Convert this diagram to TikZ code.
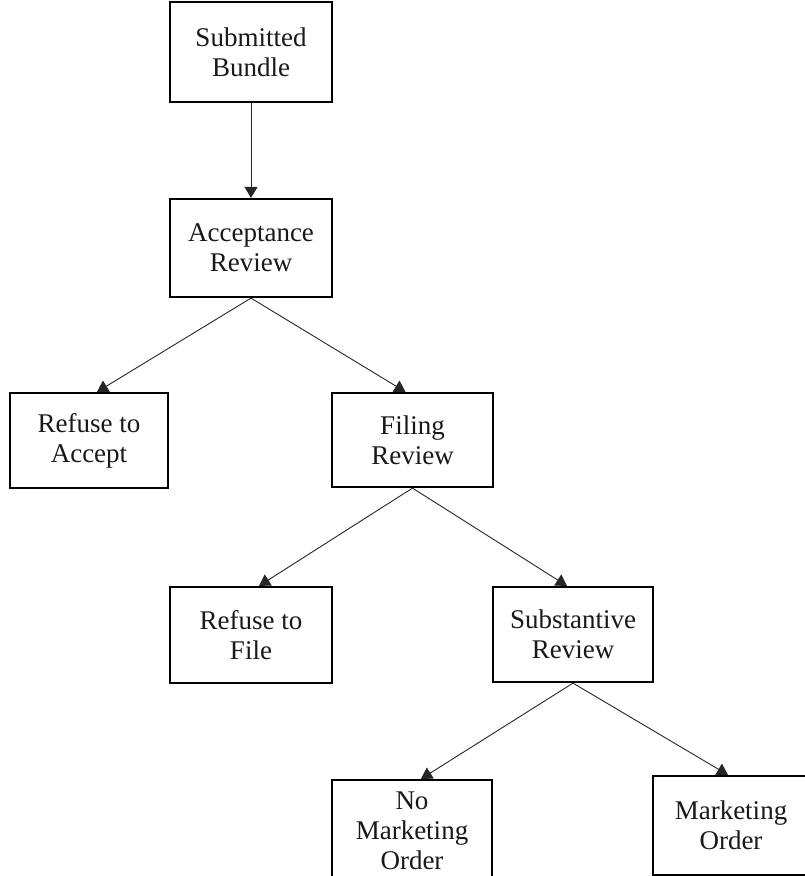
\documentclass[tikz,border=0pt]{standalone}
\usepackage{fontspec}
\setmainfont{Liberation Serif}
\usetikzlibrary{arrows.meta}
\begin{document}
\begin{tikzpicture}[x=1pt,y=-1pt,
  box/.style={draw=black, line width=2.2pt, fill=white, align=center, inner sep=0pt,
    font=\fontsize{27}{30}\selectfont, text=black!90},
  conn/.style={line width=0.9pt, draw=black!85, -{Triangle[width=13pt,length=11pt]}}]
\useasboundingbox (0,0) rectangle (805,876);
\clip (0,0) rectangle (805,876);
\node[box, minimum width=162pt, minimum height=100pt] (b1) at (251,52) {Submitted\\Bundle};
\node[box, minimum width=162pt, minimum height=98pt] (b2) at (251,248) {Acceptance\\Review};
\node[box, minimum width=158pt, minimum height=95pt] (b3) at (89,440.5) {Refuse to\\Accept};
\node[box, minimum width=161pt, minimum height=94pt] (b4) at (412.5,440) {Filing\\Review};
\node[box, minimum width=162pt, minimum height=96pt] (b5) at (251,635) {Refuse to\\File};
\node[box, minimum width=160pt, minimum height=95pt] (b6) at (573,634.5) {Substantive\\Review};
\node[box, minimum width=160pt, minimum height=102pt] (b7) at (412,831) {No\\Marketing\\Order};
\node[box, minimum width=156pt, minimum height=99pt] (b8) at (731,825.5) {Marketing\\Order};
\draw[conn] (b1.south) -- (b2.north);
\draw[conn] (b2.south) -- ([xshift=8pt]b3.north);
\draw[conn] (b2.south) -- ([xshift=-7pt]b4.north);
\draw[conn] (b4.south) -- ([xshift=8pt]b5.north);
\draw[conn] (b4.south) -- ([xshift=-6pt]b6.north);
\draw[conn] (b6.south) -- ([xshift=9pt]b7.north);
\draw[conn] (b6.south) -- ([xshift=-3pt]b8.north);
\end{tikzpicture}
\end{document}
